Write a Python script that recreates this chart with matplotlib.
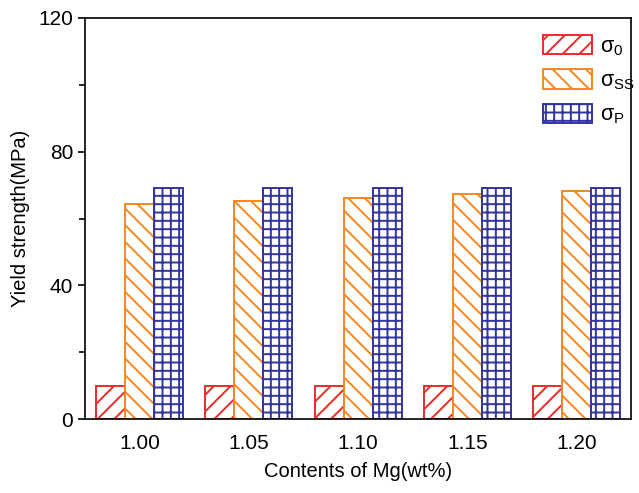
import numpy as np
import matplotlib
matplotlib.use("Agg")
import matplotlib.pyplot as plt
from matplotlib.ticker import MultipleLocator

plt.rcParams["font.family"] = ["Liberation Sans", "DejaVu Sans"]
plt.rcParams["mathtext.fontset"] = "custom"
plt.rcParams["mathtext.rm"] = "Liberation Sans"
plt.rcParams["mathtext.it"] = "Liberation Sans"
plt.rcParams["mathtext.default"] = "regular"
plt.rcParams["hatch.linewidth"] = 1.4

# data
mg_contents = ["1.00", "1.05", "1.10", "1.15", "1.20"]
sigma_0 = [9.8, 9.8, 9.8, 9.8, 9.8]
sigma_ss = [64.2, 65.1, 66.1, 67.3, 68.2]
sigma_p = [69.1, 69.1, 69.1, 69.1, 69.1]

series = [
    (sigma_0, r"$\sigma_0$", "#ee2a2a", "//"),
    (sigma_ss, r"$\sigma_{SS}$", "#f7871f", "\\\\"),
    (sigma_p, r"$\sigma_P$", "#3434a0", "++"),
]

fig = plt.figure(figsize=(6.39, 4.93), dpi=100)
ax = fig.add_axes([0.133, 0.150, 0.855, 0.8135])

x = np.arange(len(mg_contents))
w = 0.265
for i, (vals, lab, col, hat) in enumerate(series):
    ax.bar(x + (i - 1) * w, vals, w, facecolor="white", edgecolor=col,
           hatch=hat, linewidth=1.4, label=lab)

ax.set_xlim(-0.5, 4.5)
ax.set_ylim(0, 120)
ax.set_xticks(x)
ax.set_xticklabels(mg_contents)
ax.yaxis.set_major_locator(MultipleLocator(40))
ax.yaxis.set_minor_locator(MultipleLocator(20))
ax.tick_params(axis="x", length=0, labelsize=15, pad=11)
ax.tick_params(axis="y", which="major", direction="out", length=5, width=1.2, labelsize=15)
ax.tick_params(axis="y", which="minor", direction="out", length=4, width=1.2)
for s in ax.spines.values():
    s.set_linewidth(1.2)

ax.set_xlabel("Contents of Mg(wt%)", fontsize=14.5, labelpad=6)
ax.set_ylabel("Yield strength(MPa)", fontsize=14.5, labelpad=6)

ax.legend(loc="upper right", frameon=False, fontsize=15.5, handlelength=2.3,
          handleheight=1.0, labelspacing=0.55, handletextpad=0.35,
          borderaxespad=0.2, bbox_to_anchor=(1.03, 0.99))

fig.savefig("out.png", dpi=100)
